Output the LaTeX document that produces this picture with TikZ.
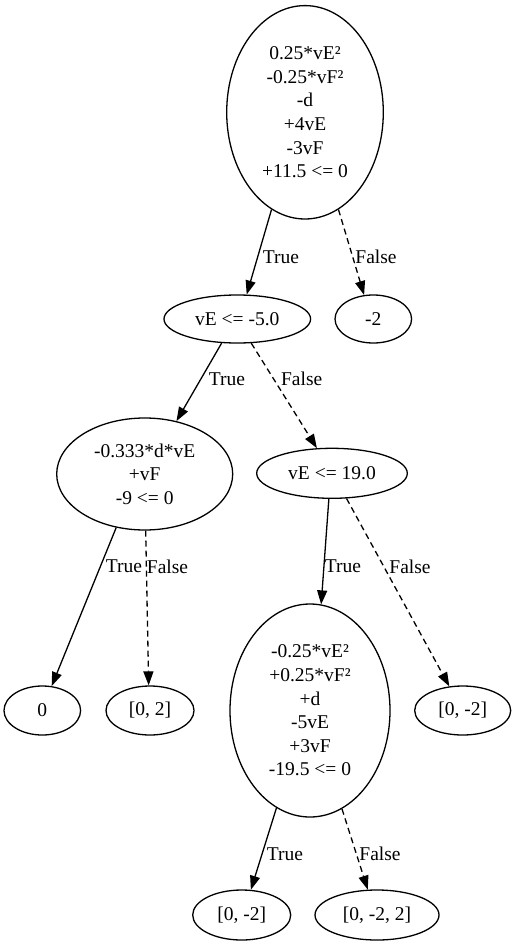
\documentclass[tikz,border=0pt]{standalone}
\usepackage{fontspec}
\setmainfont{Liberation Serif}
\usetikzlibrary{shapes.geometric,arrows.meta}
\begin{document}
\begin{tikzpicture}[x=1pt,y=-1pt,
  every node/.style={font=\fontsize{19.5}{23.6}\selectfont},
  tnode/.style={draw,ellipse,line width=1.3pt,inner sep=0pt,align=center},
  edge/.style={line width=1.3pt,-{Triangle[length=14pt,width=10pt]}},
  fedge/.style={edge,dash pattern=on 6pt off 4pt},
  elabel/.style={inner sep=0pt}]
\useasboundingbox (0,0) rectangle (518,947);
\node[tnode,minimum width=156.6pt,minimum height=213.4pt] (root) at (305,112.3)
  {0.25*vE²\\-0.25*vF²\\-d\\+4vE\\-3vF\\+11.5 <= 0};
\node[tnode,minimum width=146.6pt,minimum height=48pt] (n1) at (237.3,319) {vE <= -5.0};
\node[tnode,minimum width=76.6pt,minimum height=48pt] (n2) at (373.3,319) {-2};
\node[tnode,minimum width=176pt,minimum height=112pt] (n3) at (144.7,474)
  {-0.333*d*vE\\+vF\\-9 <= 0};
\node[tnode,minimum width=150.6pt,minimum height=50pt] (n4) at (332,473.3) {vE <= 19.0};
\node[tnode,minimum width=76.6pt,minimum height=49pt] (n5) at (42.3,710.5) {0};
\node[tnode,minimum width=88pt,minimum height=49pt] (n6) at (150,710.5) {[0, 2]};
\node[tnode,minimum width=160pt,minimum height=213pt] (n7) at (310,710.5)
  {-0.25*vE²\\+0.25*vF²\\+d\\-5vE\\+3vF\\-19.5 <= 0};
\node[tnode,minimum width=96pt,minimum height=49pt] (n8) at (462.7,710.5) {[0, -2]};
\node[tnode,minimum width=98pt,minimum height=50pt] (n9) at (241.7,915) {[0, -2]};
\node[tnode,minimum width=124pt,minimum height=50pt] (n10) at (377,915) {[0, -2, 2]};

\draw[edge] (root.251.3) -- (n1.69.4);
\draw[fedge] (root.289.2) -- (n2.111.8);
\draw[edge] (n1.237.3) -- (n3.59.7);
\draw[fedge] (n1.300.6) -- (n4.121.5);
\draw[edge] (n3.242.7) -- (n5.69.8);
\draw[fedge] (n3.271) -- (n6.93.7);
\draw[edge] (n4.263.8) -- (n7.84.6);
\draw[fedge] (n4.300.5) -- (n8.119.5);
\draw[edge] (n7.251.5) -- (n9.70.4);
\draw[fedge] (n7.288.1) -- (n10.110.5);

\node[elabel] (l1) at (281,257) {True};
\node[elabel] (l2) at (376,257) {False};
\node[elabel] (l3) at (227,379) {True};
\node[elabel] (l4) at (301.7,379) {False};
\node[elabel] (l5) at (124,566.7) {True};
\node[elabel] (l6) at (167.5,566.7) {False};
\node[elabel] (l7) at (343,566.7) {True};
\node[elabel] (l8) at (410,566.7) {False};
\node[elabel] (l9) at (285,854) {True};
\node[elabel] (l10) at (380,854) {False};
\end{tikzpicture}
\end{document}
